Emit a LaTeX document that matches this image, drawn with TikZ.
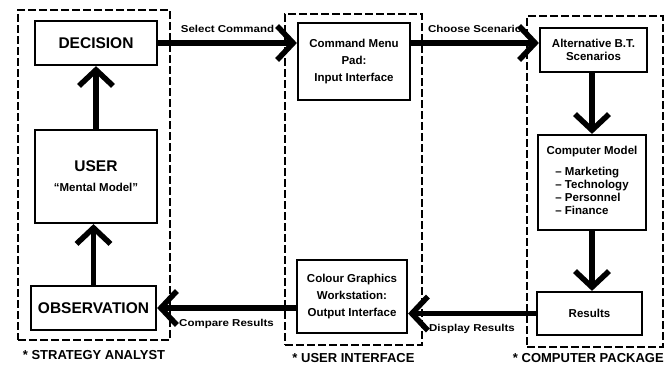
\documentclass[tikz,border=0pt]{standalone}
\usepackage{fontspec}
\setmainfont{Liberation Sans}
\newfontfamily\widefont[FakeStretch=1.15]{Liberation Sans}
\usetikzlibrary{arrows.meta, positioning}
\tikzset{
  bigbox/.style  = {draw, line width=2.2pt, align=center, inner sep=2pt,
                    font=\bfseries\fontsize{15.5}{18}\selectfont},
  txtbox/.style  = {draw, line width=2.2pt, align=center, inner sep=2pt,
                    font=\bfseries\fontsize{11.5}{17}\selectfont},
  grpbox/.style  = {draw, line width=1.8pt, dash pattern=on 8pt off 3pt},
  grplbl/.style  = {font=\bfseries\fontsize{13}{16}\selectfont, inner sep=0pt},
  flow/.style    = {-{Straight Barb[length=16pt, width=34pt]}, line width=5.5pt},
  flowlbl/.style = {font=\widefont\bfseries\fontsize{10}{12}\selectfont, inner sep=2pt},
}

\begin{document}
\begin{tikzpicture}[x=1pt, y=-1pt]
    \useasboundingbox (0,0) rectangle (665,368);
    % dashed groups
    \node[grpbox, minimum width=152pt, minimum height=330pt] (sa) at (94,175)    {};
    \node[grpbox, minimum width=137pt, minimum height=331pt] (ui) at (353.5,179.5) {};
    \node[grpbox, minimum width=136pt, minimum height=331pt] (cp) at (595,181.5)  {};
    \node[grplbl, below=9pt of sa.south] (salbl) {* STRATEGY ANALYST};
    \node[grplbl, below=7pt of ui.south] (uilbl) {* USER INTERFACE};
    \node[grplbl, below left=5pt and 0pt of cp.south east] (cplbl) {* COMPUTER PACKAGE};

    % strategy analyst
    \node[bigbox, minimum width=122pt, minimum height=44pt] (dec) at (96,43)    {DECISION};
    \node[bigbox, minimum width=122pt, minimum height=93pt] (usr) at (96,176.5) {USER\\[2pt]{\fontsize{11.5}{14}\selectfont “Mental Model”}};
    \node[bigbox, minimum width=125pt, minimum height=44pt] (obs) at (93.5,308) {OBSERVATION};
    % user interface
    \node[txtbox, minimum width=112pt, minimum height=77pt] (cmd) at (354,61.5) {Command Menu\\Pad:\\Input Interface};
    \node[txtbox, minimum width=110pt, minimum height=73pt] (cg)  at (352,296.5) {Colour Graphics\\Workstation:\\Output Interface};
    % computer package
    \node[txtbox, minimum width=107pt, minimum height=44pt] (alt) at (593.5,50) {Alternative B.T.\\[-4pt]Scenarios};
    \node[txtbox, minimum width=108pt, minimum height=95pt] (cm)  at (592,182.5)
      {Computer Model\\[9pt]{\fontsize{11.5}{13}\selectfont\begin{tabular}{@{}l@{}}-- Marketing\\-- Technology\\-- Personnel\\-- Finance\end{tabular}}};
    \node[txtbox, minimum width=105pt, minimum height=43pt] (res) at (589.5,313.5) {Results};

    \draw[flow] (obs.north) -- (obs.north |- usr.south);
    \draw[flow] (usr.north -| dec.south) -- (dec.south);
    \draw[flow] (dec.east) -- (dec.east -| cmd.west)
      node[flowlbl, midway, above=6pt] {Select Command};
    \draw[flow] (dec.east -| cmd.east) -- (dec.east -| alt.west)
      node[flowlbl, midway, above=6pt] {Choose Scenario};
    \draw[flow] (alt.south -| cm.north) -- (cm.north);
    \draw[flow] (cm.south) -- (cm.south |- res.north);
    \draw[flow] (res.west) -- (res.west -| cg.east)
      node[flowlbl, midway, below=6pt] {Display Results};
    \draw[flow] (obs.east -| cg.west) -- (obs.east)
      node[flowlbl, midway, below=6pt] {Compare Results};
\end{tikzpicture}
\end{document}
